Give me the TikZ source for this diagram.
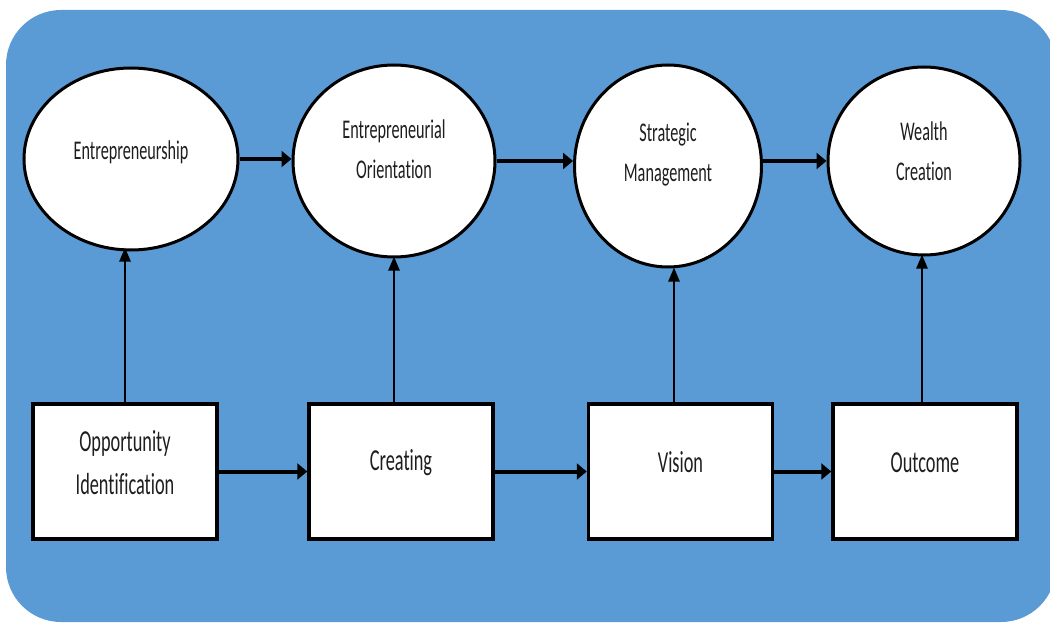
\documentclass[tikz,border=0pt]{standalone}
\usepackage{fontspec}
\usetikzlibrary{shapes.geometric,arrows.meta}
\newfontfamily\diagfont{Carlito}[FakeStretch=0.6,Ligatures=NoCommon]
\definecolor{panelblue}{RGB}{91,155,213}
\definecolor{inkgray}{RGB}{30,30,30}
\begin{document}
\begin{tikzpicture}[x=1pt,y=-1pt,
  ell/.style={ellipse,draw=black,line width=3pt,fill=white,inner sep=0pt},
  stage/.style={rectangle,draw=black,line width=3.5pt,fill=white,
    minimum width=184pt,minimum height=135pt,inner sep=0pt},
  elltext/.style={font=\diagfont\fontsize{27}{40}\selectfont,text=inkgray,align=center},
  boxtext/.style={font=\diagfont\fontsize{30.5}{43}\selectfont,text=inkgray,align=center},
  hlink/.style={line width=4pt,-{Triangle[length=10pt,width=16pt]}},
  vlink/.style={line width=2.5pt,-{Triangle[length=14pt,width=11pt]}}]
\useasboundingbox (0,0) rectangle (1050,623);
\clip (0,0) rectangle (1050,623);
% panel
\fill[panelblue,rounded corners=55pt] (6,10) rectangle (1056,622);

% upper row: concepts
\node[ell,minimum width=214pt,minimum height=182pt,
  label={[elltext,name=e1t,yshift=7pt]center:Entrepreneurship}] (e1) at (131,159) {};
\node[ell,minimum width=202pt,minimum height=192pt,
  label={[elltext,name=e2t,yshift=12pt]center:Entrepreneurial\\Orientation}] (e2) at (394,161) {};
\node[ell,minimum width=187pt,minimum height=202pt,
  label={[elltext,name=e3t,yshift=11pt]center:Strategic\\Management}] (e3) at (668,166) {};
\node[ell,minimum width=192pt,minimum height=188pt,
  label={[elltext,name=e4t,yshift=10pt]center:Wealth\\Creation}] (e4) at (924,161) {};

% lower row: stages
\node[stage,label={[boxtext,name=b1t,yshift=9pt]center:Opportunity\\Identification}] (b1) at (125,471.5) {};
\node[stage,label={[boxtext,name=b2t,yshift=9pt]center:Creating}] (b2) at (401,471.5) {};
\node[stage,label={[boxtext,name=b3t,yshift=9pt]center:Vision}] (b3) at (680.5,471.5) {};
\node[stage,label={[boxtext,name=b4t,yshift=9pt]center:Outcome}] (b4) at (925,471.5) {};

% horizontal flow
\draw[hlink] (e1.east) -- (e1.east -| e2.west);
\draw[hlink] (e2.east) -- (e2.east -| e3.west);
\draw[hlink] (e3.east |- e4.west) -- (e4.west);
\draw[hlink] (b1.east) -- (b2.west);
\draw[hlink] (b2.east) -- (b3.west);
\draw[hlink] (b3.east) -- (b4.west);

% vertical links
\draw[vlink] (b1.north) -- ([yshift=4pt]b1.north |- e1.south);
\draw[vlink] (b2.north -| e2.south) -- ([yshift=2pt]e2.south);
\draw[vlink] ([xshift=-6.5pt]b3.north) -- ([xshift=-6.5pt,yshift=1pt]b3.north |- e3.south);
\draw[vlink] ([xshift=-3pt]b4.north) -- ([xshift=-3pt,yshift=2pt]b4.north |- e4.south);
\end{tikzpicture}
\end{document}
